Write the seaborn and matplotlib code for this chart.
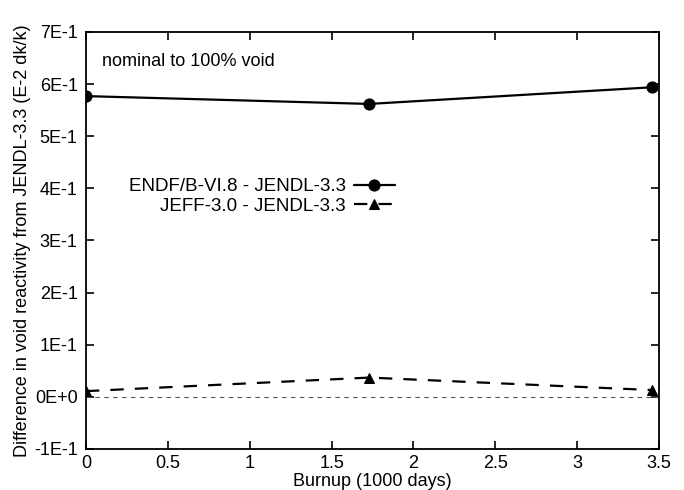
import numpy as np
import pandas as pd
import matplotlib
matplotlib.use('Agg')
import matplotlib.pyplot as plt
import seaborn as sns

burnup = [0.0, 1.73, 3.46]
endf_vals = [0.577, 0.562, 0.594]
jeff_vals = [0.011, 0.037, 0.013]
endf_label = 'ENDF/B-VI.8 - JENDL-3.3'
jeff_label = 'JEFF-3.0 - JENDL-3.3'
yticks = [-0.1, 0.0, 0.1, 0.2, 0.3, 0.4, 0.5, 0.6, 0.7]
ytick_labels = ['-1E-1', '0E+0', '1E-1', '2E-1', '3E-1', '4E-1', '5E-1', '6E-1', '7E-1']
xticks = [0, 0.5, 1, 1.5, 2, 2.5, 3, 3.5]
xtick_labels = ['0', '0.5', '1', '1.5', '2', '2.5', '3', '3.5']

sns.set_style('ticks')
plt.rcParams['font.family'] = ['Liberation Sans', 'DejaVu Sans']
plt.rcParams['font.size'] = 13
plt.rcParams['text.color'] = 'black'
plt.rcParams['axes.labelcolor'] = 'black'

df = pd.DataFrame({'burnup': burnup, 'endf': endf_vals, 'jeff': jeff_vals})

fig = plt.figure(figsize=(6.84, 4.9), dpi=100)
ax = fig.add_axes([0.1257, 0.0837, 0.8378, 0.851])

ax.axhline(0, color='#555555', lw=0.8, ls=(0, (4, 4)))
sns.lineplot(data=df, x='burnup', y='endf', ax=ax, color='black', lw=1.6,
             marker='o', markersize=8, markeredgecolor='black', label=endf_label)
sns.lineplot(data=df, x='burnup', y='jeff', ax=ax, color='black', lw=1.6,
             ls=(0, (6, 5)), marker='^', markersize=7, markeredgecolor='black',
             label=jeff_label)

ax.set_xlim(0, 3.5)
ax.set_ylim(-0.1, 0.7)
ax.set_xticks(xticks)
ax.set_xticklabels(xtick_labels)
ax.set_yticks(yticks)
ax.set_yticklabels(ytick_labels)
ax.tick_params(direction='in', length=6, width=1.2, top=True, right=True,
               labelsize=13, color='black', labelcolor='black')
ax.tick_params(axis='x', pad=4)
ax.tick_params(axis='y', pad=6)
for s in ax.spines.values():
    s.set_visible(True)
    s.set_linewidth(1.3)
    s.set_color('black')

ax.set_xlabel('Burnup (1000 days)', fontsize=13, labelpad=1)
ax.set_ylabel('Difference in void reactivity from JENDL-3.3 (E-2 dk/k)', fontsize=13, labelpad=2)
ax.text(0.028, 0.93, 'nominal to 100% void', transform=ax.transAxes, fontsize=13,
        va='center', ha='left')

ax.legend(loc='upper right', bbox_to_anchor=(0.539, 0.65), frameon=False,
          markerfirst=False, borderpad=0, borderaxespad=0, handlelength=2.2,
          handletextpad=0.4, labelspacing=0.15, fontsize=13.5)

fig.savefig('out.png', dpi=100)
